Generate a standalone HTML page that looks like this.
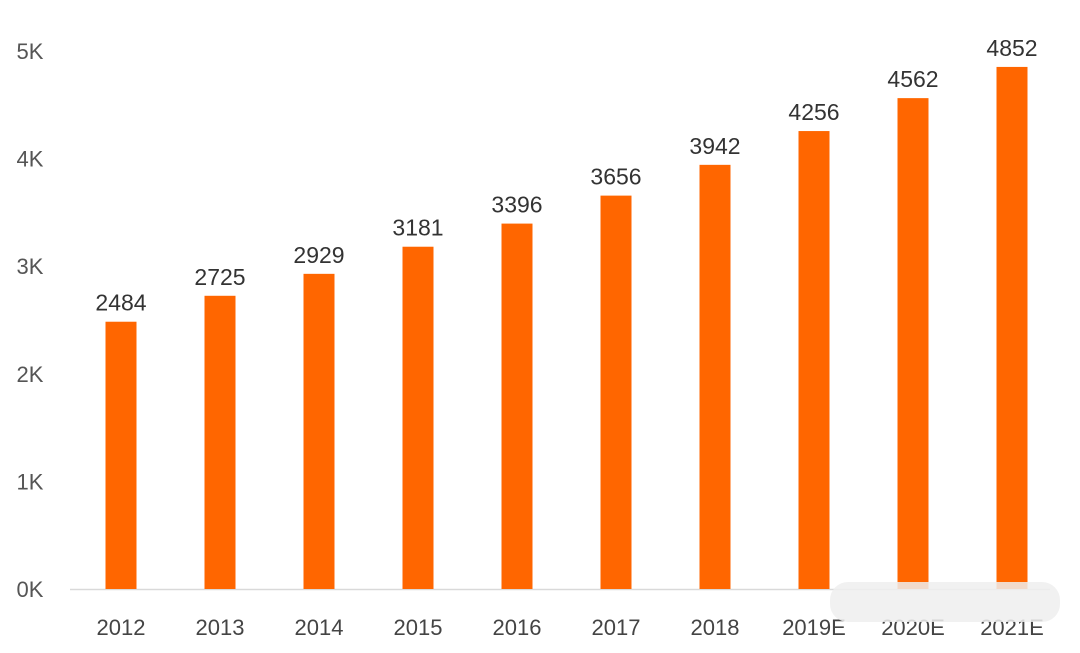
<!DOCTYPE html>
<html><head><meta charset="utf-8"><style>
html,body{margin:0;padding:0;background:#fff;}
svg{display:block;font-family:"Liberation Sans","Noto Sans CJK SC",sans-serif;}
</style></head><body>
<svg id="chart" width="1080" height="653"></svg>
<script>
const categories=["2012","2013","2014","2015","2016","2017","2018","2019E","2020E","2021E"];
const values=[2484,2725,2929,3181,3396,3656,3942,4256,4562,4852];
const yTicks=[0,1000,2000,3000,4000,5000];
const yTickLabels=["0K","1K","2K","3K","4K","5K"];
const svg=document.getElementById('chart');
const NS="http://www.w3.org/2000/svg";
const base=589, perUnit=107.6/1000;
function y(v){return base-v*perUnit;}
function x(i){return 121+i*99;}
function mk(tag,attrs){const e=document.createElementNS(NS,tag);for(const k in attrs)e.setAttribute(k,attrs[k]);svg.appendChild(e);return e;}
const axis=mk('line',{x1:70,x2:1050,y1:base+0.5,y2:base+0.5,stroke:'#d9d9d9','stroke-width':1.5});


yTicks.forEach((t,i)=>{
  const tx=mk('text',{x:30,y:y(t)+8,'text-anchor':'middle','font-size':22,fill:'#555'});
  tx.textContent=yTickLabels[i];
  
  
});
categories.forEach((c,i)=>{
  const r=mk('rect',{x:x(i)-15.5,y:y(values[i]),width:31,height:base-y(values[i]),fill:'#ff6600'});
  
  
  const v=mk('text',{x:x(i),y:y(values[i])-11,'text-anchor':'middle','font-size':23,fill:'#333'});
  v.textContent=values[i];
  
  
  const l=mk('text',{x:x(i),y:635,'text-anchor':'middle','font-size':22,fill:'#444'});
  l.textContent=c;
  
  
});
const blur=mk('rect',{x:830,y:582,width:230,height:40,rx:18,fill:'#eeeeee',opacity:0.85});


</script>
</body></html>
